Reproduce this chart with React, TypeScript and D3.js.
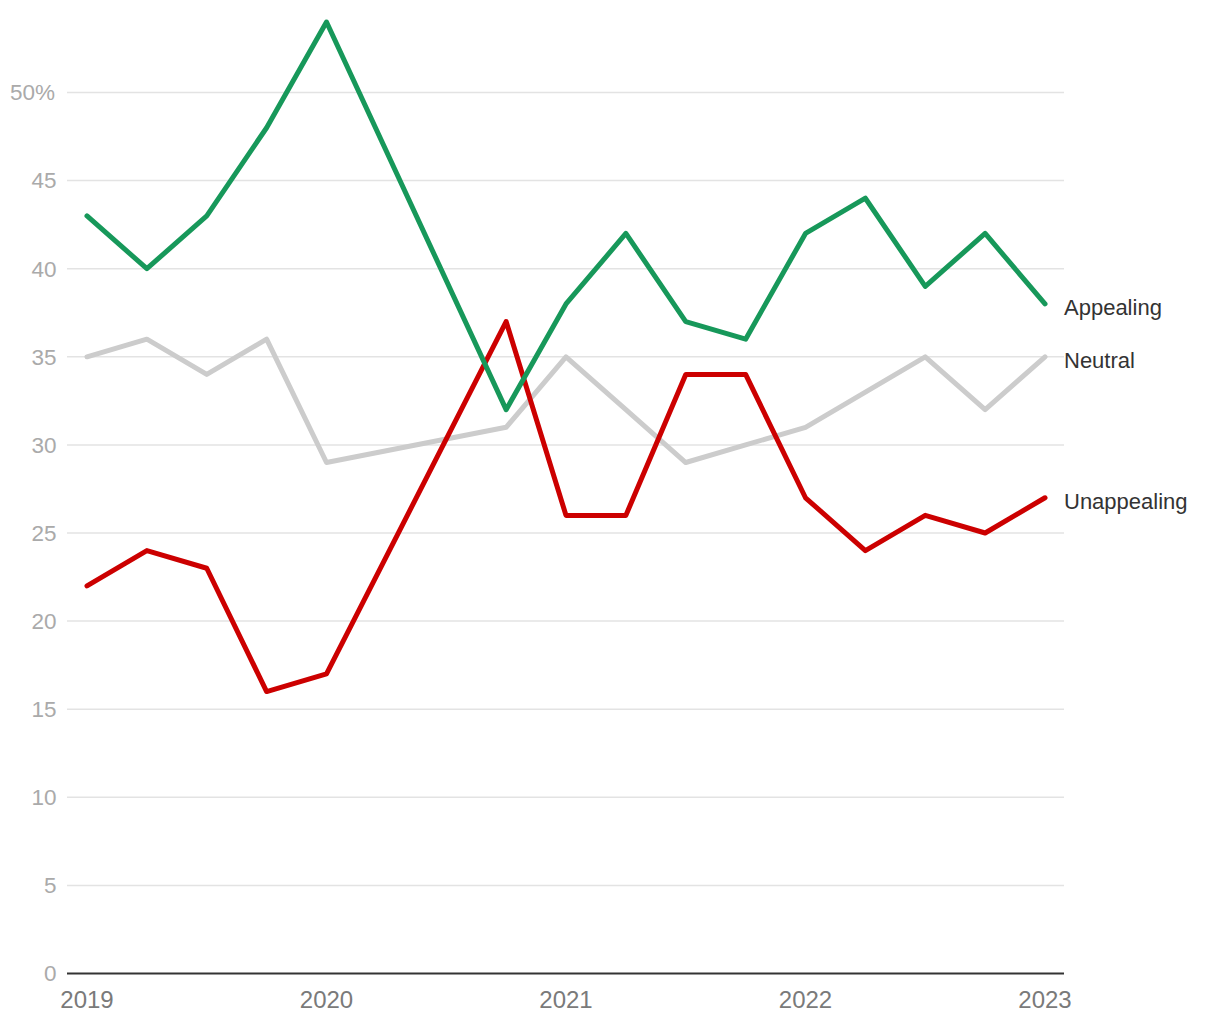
import React from "react";
import * as d3 from "d3";

const quarters: number[] = [2019, 2019.25, 2019.5, 2019.75, 2020, 2020.75, 2021, 2021.25, 2021.5, 2021.75, 2022, 2022.25, 2022.5, 2022.75, 2023];
const appealing: number[] = [43, 40, 43, 48, 54, 32, 38, 42, 37, 36, 42, 44, 39, 42, 38];
const neutral: number[] = [35, 36, 34, 36, 29, 31, 35, 32, 29, 30, 31, 33, 35, 32, 35];
const unappealing: number[] = [22, 24, 23, 16, 17, 37, 26, 26, 34, 34, 27, 24, 26, 25, 27];
const yTicks: number[] = [0, 5, 10, 15, 20, 25, 30, 35, 40, 45, 50];
const xTicks: number[] = [2019, 2020, 2021, 2022, 2023];

const seriesList = [
  { name: "Neutral", values: neutral, color: "#cccccc" },
  { name: "Unappealing", values: unappealing, color: "#cc0000" },
  { name: "Appealing", values: appealing, color: "#17985a" },
];

export default function App() {
  const W = 1220, H = 1020;
  const x = d3.scaleLinear().domain([2019, 2023]).range([79, 1037]);
  const y = d3.scaleLinear().domain([0, 50]).range([965.5, 84.5]);
  const font = "'Liberation Sans', Arial, sans-serif";
  const line = d3.line<[number, number]>().x(d => x(d[0])).y(d => y(d[1]));
  return (
    <svg width={W} height={H} style={{ display: "block" }}>
      {yTicks.map(t => (
        <g key={t}>
          {t > 0 && <line x1={59} x2={1056} y1={y(t)} y2={y(t)} stroke="#e3e3e3" strokeWidth={1.5} />}
          <text x={t === 50 ? 2 : 48.5} y={y(t)} dy="0.35em" textAnchor={t === 50 ? "start" : "end"}
            fill="#aaaaaa" fontFamily={font} fontSize={22.5}>{t === 50 ? "50%" : t}</text>
        </g>
      ))}
      <line x1={59} x2={1056} y1={y(0)} y2={y(0)} stroke="#333" strokeWidth={2} />
      {xTicks.map(t => (
        <text key={t} x={x(t)} y={999.5} textAnchor="middle" fill="#7a7a7a" fontFamily={font} fontSize={24}>{t}</text>
      ))}
      {seriesList.map(s => (
        <path key={s.name} d={line(quarters.map((q, i) => [q, s.values[i]] as [number, number])) || ""}
          fill="none" stroke={s.color} strokeWidth={5} strokeLinejoin="round" strokeLinecap="round" />
      ))}
      {seriesList.map(s => (
        <text key={s.name} x={1056} y={y(s.values[s.values.length - 1]) + 3.5} dy="0.35em"
          fill="#333" fontFamily={font} fontSize={22}>{s.name}</text>
      ))}
    </svg>
  );
}
